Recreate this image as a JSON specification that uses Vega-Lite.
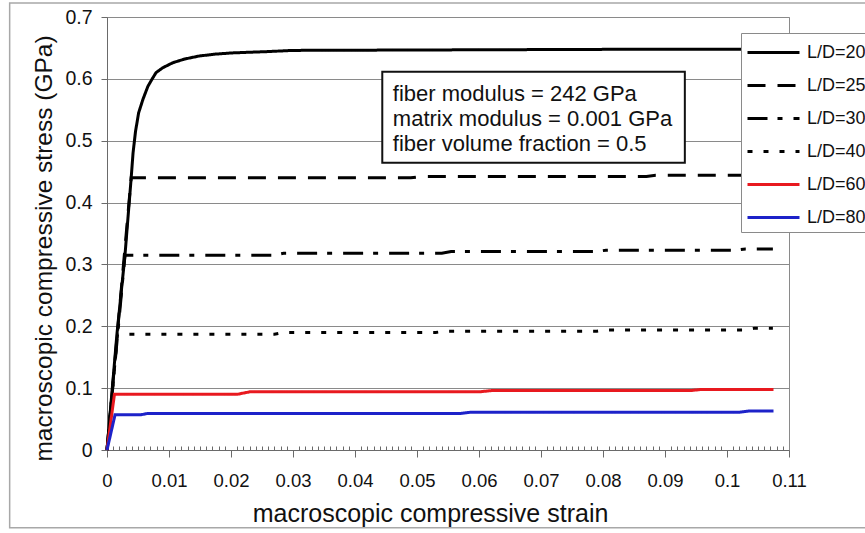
{
  "$schema": "https://vega.github.io/schema/vega-lite/v6.json",
  "autosize": {"type": "none"},
  "width": 682,
  "height": 433,
  "padding": {"left": 107, "top": 17, "right": 76, "bottom": 83},
  "background": "#ffffff",
  "config": {
    "view": {"stroke": "#8a8a8a", "strokeWidth": 1},
    "axis": {
      "labelFont": "Liberation Sans",
      "titleFont": "Liberation Sans",
      "titleFontWeight": "normal",
      "titleFontSize": 24.5,
      "titleColor": "#111111",
      "labelColor": "#111111",
      "domainColor": "#6a6a6a",
      "tickColor": "#6a6a6a",
      "labelOverlap": false,
      "labelFlush": false,
      "labelBound": false
    },
    "legend": {
      "orient": "none",
      "legendX": 634,
      "legendY": 16,
      "title": null,
      "symbolType": "M-1,0H3",
      "symbolSize": 676,
      "symbolStrokeWidth": 3,
      "labelFont": "Liberation Sans",
      "labelFontSize": 18,
      "labelColor": "#111111",
      "labelOffset": 32,
      "strokeColor": "#8a8a8a",
      "fillColor": "#ffffff",
      "padding": 5,
      "rowPadding": 9
    }
  },
  "resolve": {"axis": {"x": "independent"}},
  "data": {
    "values": [
      {"LD": "L/D=20", "strain": 0, "stress": 0},
      {"LD": "L/D=20", "strain": 0.0016, "stress": 0.187},
      {"LD": "L/D=20", "strain": 0.0029, "stress": 0.315},
      {"LD": "L/D=20", "strain": 0.0039, "stress": 0.44},
      {"LD": "L/D=20", "strain": 0.0042, "stress": 0.48},
      {"LD": "L/D=20", "strain": 0.0046, "stress": 0.515},
      {"LD": "L/D=20", "strain": 0.0051, "stress": 0.545},
      {"LD": "L/D=20", "strain": 0.0058, "stress": 0.567},
      {"LD": "L/D=20", "strain": 0.0066, "stress": 0.588},
      {"LD": "L/D=20", "strain": 0.0073, "stress": 0.6},
      {"LD": "L/D=20", "strain": 0.0079, "stress": 0.61},
      {"LD": "L/D=20", "strain": 0.009, "stress": 0.618},
      {"LD": "L/D=20", "strain": 0.0106, "stress": 0.626},
      {"LD": "L/D=20", "strain": 0.0125, "stress": 0.632},
      {"LD": "L/D=20", "strain": 0.0149, "stress": 0.637},
      {"LD": "L/D=20", "strain": 0.0175, "stress": 0.64},
      {"LD": "L/D=20", "strain": 0.0203, "stress": 0.642},
      {"LD": "L/D=20", "strain": 0.0257, "stress": 0.644},
      {"LD": "L/D=20", "strain": 0.03, "stress": 0.646},
      {"LD": "L/D=20", "strain": 0.06, "stress": 0.647},
      {"LD": "L/D=20", "strain": 0.09, "stress": 0.648},
      {"LD": "L/D=20", "strain": 0.1075, "stress": 0.648},

      {"LD": "L/D=25", "strain": 0, "stress": 0},
      {"LD": "L/D=25", "strain": 0.0039, "stress": 0.44},
      {"LD": "L/D=25", "strain": 0.049, "stress": 0.44},
      {"LD": "L/D=25", "strain": 0.0505, "stress": 0.442},
      {"LD": "L/D=25", "strain": 0.087, "stress": 0.442},
      {"LD": "L/D=25", "strain": 0.0885, "stress": 0.444},
      {"LD": "L/D=25", "strain": 0.1075, "stress": 0.444},

      {"LD": "L/D=30", "strain": 0, "stress": 0},
      {"LD": "L/D=30", "strain": 0.0029, "stress": 0.315},
      {"LD": "L/D=30", "strain": 0.027, "stress": 0.315},
      {"LD": "L/D=30", "strain": 0.0285, "stress": 0.318},
      {"LD": "L/D=30", "strain": 0.054, "stress": 0.318},
      {"LD": "L/D=30", "strain": 0.0555, "stress": 0.321},
      {"LD": "L/D=30", "strain": 0.079, "stress": 0.321},
      {"LD": "L/D=30", "strain": 0.0805, "stress": 0.323},
      {"LD": "L/D=30", "strain": 0.1015, "stress": 0.323},
      {"LD": "L/D=30", "strain": 0.103, "stress": 0.325},
      {"LD": "L/D=30", "strain": 0.1074, "stress": 0.325},

      {"LD": "L/D=40", "strain": 0, "stress": 0},
      {"LD": "L/D=40", "strain": 0.0017, "stress": 0.187},
      {"LD": "L/D=40", "strain": 0.027, "stress": 0.187},
      {"LD": "L/D=40", "strain": 0.0285, "stress": 0.19},
      {"LD": "L/D=40", "strain": 0.053, "stress": 0.19},
      {"LD": "L/D=40", "strain": 0.0545, "stress": 0.192},
      {"LD": "L/D=40", "strain": 0.079, "stress": 0.192},
      {"LD": "L/D=40", "strain": 0.0805, "stress": 0.194},
      {"LD": "L/D=40", "strain": 0.103, "stress": 0.194},
      {"LD": "L/D=40", "strain": 0.1045, "stress": 0.197},
      {"LD": "L/D=40", "strain": 0.1074, "stress": 0.197},

      {"LD": "L/D=60", "strain": 0, "stress": 0},
      {"LD": "L/D=60", "strain": 0.0012, "stress": 0.09},
      {"LD": "L/D=60", "strain": 0.021, "stress": 0.09},
      {"LD": "L/D=60", "strain": 0.023, "stress": 0.094},
      {"LD": "L/D=60", "strain": 0.06, "stress": 0.094},
      {"LD": "L/D=60", "strain": 0.062, "stress": 0.096},
      {"LD": "L/D=60", "strain": 0.094, "stress": 0.096},
      {"LD": "L/D=60", "strain": 0.096, "stress": 0.098},
      {"LD": "L/D=60", "strain": 0.1075, "stress": 0.098},

      {"LD": "L/D=80", "strain": 0, "stress": 0},
      {"LD": "L/D=80", "strain": 0.0013, "stress": 0.057},
      {"LD": "L/D=80", "strain": 0.0055, "stress": 0.057},
      {"LD": "L/D=80", "strain": 0.0065, "stress": 0.059},
      {"LD": "L/D=80", "strain": 0.057, "stress": 0.059},
      {"LD": "L/D=80", "strain": 0.0585, "stress": 0.061},
      {"LD": "L/D=80", "strain": 0.102, "stress": 0.061},
      {"LD": "L/D=80", "strain": 0.1035, "stress": 0.063},
      {"LD": "L/D=80", "strain": 0.1075, "stress": 0.063}
    ]
  },
  "layer": [
    {
      "data": {"values": [{}]},
      "mark": {"type": "rect", "filled": false, "stroke": "#a8a8a8", "strokeWidth": 1.5, "clip": false},
      "encoding": {
        "x": {
          "datum": -0.0157,
          "type": "quantitative",
          "axis": {
            "orient": "bottom",
            "title": null,
            "labels": false,
            "domain": false,
            "grid": false,
            "tickSize": -4,
            "values": [0.001, 0.002, 0.003, 0.004, 0.005, 0.006, 0.007, 0.008, 0.009,
                       0.011, 0.012, 0.013, 0.014, 0.015, 0.016, 0.017, 0.018, 0.019,
                       0.021, 0.022, 0.023, 0.024, 0.025, 0.026, 0.027, 0.028, 0.029,
                       0.031, 0.032, 0.033, 0.034, 0.035, 0.036, 0.037, 0.038, 0.039,
                       0.041, 0.042, 0.043, 0.044, 0.045, 0.046, 0.047, 0.048, 0.049,
                       0.051, 0.052, 0.053, 0.054, 0.055, 0.056, 0.057, 0.058, 0.059,
                       0.061, 0.062, 0.063, 0.064, 0.065, 0.066, 0.067, 0.068, 0.069,
                       0.071, 0.072, 0.073, 0.074, 0.075, 0.076, 0.077, 0.078, 0.079,
                       0.081, 0.082, 0.083, 0.084, 0.085, 0.086, 0.087, 0.088, 0.089,
                       0.091, 0.092, 0.093, 0.094, 0.095, 0.096, 0.097, 0.098, 0.099,
                       0.101, 0.102, 0.103, 0.104, 0.105, 0.106, 0.107, 0.108, 0.109]
          }
        },
        "x2": {"datum": 0.125},
        "y": {"datum": 0.7226, "type": "quantitative"},
        "y2": {"datum": -0.1258}
      }
    },
    {
      "mark": {"type": "line", "strokeWidth": 3, "strokeCap": "butt"},
      "encoding": {
        "x": {
          "field": "strain",
          "type": "quantitative",
          "scale": {"domain": [0, 0.11], "nice": false, "zero": false},
          "axis": {
            "orient": "bottom",
            "title": "macroscopic compressive strain",
            "titleX": 323,
            "titlePadding": 12,
            "titleFontSize": 25,
            "grid": false,
            "labelFontSize": 18.5,
            "labelPadding": 14,
            "labelOverlap": false,
            "tickSize": 7,
            "format": "~g",
            "values": [0, 0.01, 0.02, 0.03, 0.04, 0.05, 0.06, 0.07, 0.08, 0.09, 0.1, 0.11]
          }
        },
        "y": {
          "field": "stress",
          "type": "quantitative",
          "scale": {"domain": [0, 0.7], "nice": false, "zero": false},
          "axis": {
            "title": "macroscopic compressive stress (GPa)",
            "titlePadding": 8,
            "titleY": 231,
            "grid": true,
            "gridColor": "#8a8a8a",
            "gridWidth": 1,
            "tickSize": 6,
            "labelFontSize": 19.5,
            "labelPadding": 9,
            "format": "~g",
            "values": [0, 0.1, 0.2, 0.3, 0.4, 0.5, 0.6, 0.7]
          }
        },
        "color": {
          "field": "LD",
          "type": "nominal",
          "scale": {
            "domain": ["L/D=20", "L/D=25", "L/D=30", "L/D=40", "L/D=60", "L/D=80"],
            "range": ["#000000", "#000000", "#000000", "#000000", "#e8191f", "#1d22c9"]
          }
        },
        "strokeDash": {
          "field": "LD",
          "type": "nominal",
          "scale": {
            "domain": ["L/D=20", "L/D=25", "L/D=30", "L/D=40", "L/D=60", "L/D=80"],
            "range": [[1, 0], [18, 12], [20, 10, 5, 11], [5, 11], [1, 0], [1, 0]]
          }
        }
      }
    },
    {
      "data": {"values": [{}]},
      "mark": {"type": "rect", "fill": "#ffffff", "stroke": "#111111", "strokeWidth": 2},
      "encoding": {
        "x": {"datum": 0.0444, "type": "quantitative", "axis": null},
        "x2": {"datum": 0.0932},
        "y": {"datum": 0.6113, "type": "quantitative"},
        "y2": {"datum": 0.4645}
      }
    },
    {
      "data": {"values": [{}]},
      "mark": {"type": "text", "align": "left", "baseline": "middle", "font": "Liberation Sans", "fontSize": 22, "lineHeight": 25, "color": "#111111"},
      "encoding": {
        "x": {"datum": 0.0461, "type": "quantitative", "axis": null},
        "y": {"datum": 0.5758, "type": "quantitative"},
        "text": {"value": ["fiber modulus = 242 GPa", "matrix modulus = 0.001 GPa", "fiber volume fraction = 0.5"]}
      }
    }
  ]
}
